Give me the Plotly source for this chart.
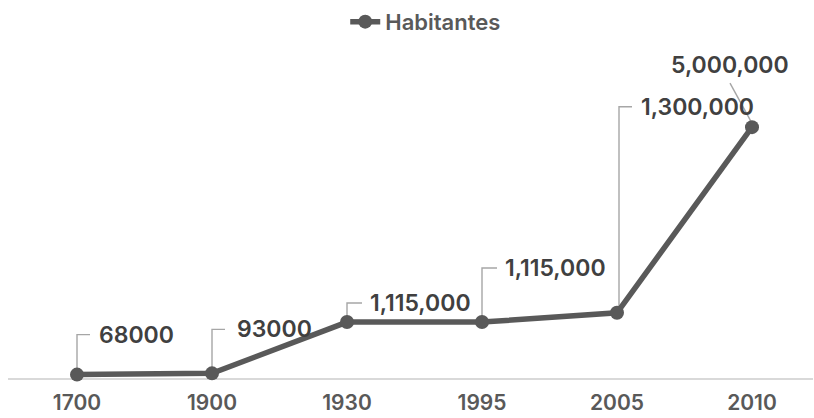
import plotly.graph_objects as go

# Population by year
years = ["1700", "1900", "1930", "1995", "2005", "2010"]
habitantes = [68000, 93000, 1115000, 1115000, 1300000, 5000000]
series_name = "Habitantes"

LINE_GREY = "#595959"
LABEL_GREY = "#404040"
LEADER_GREY = "#a6a6a6"
FONT = "Inter"


def fmt(v):
    return f"{v:,}" if v >= 1_000_000 else str(v)


xs = list(range(len(years)))

fig = go.Figure()
fig.add_trace(go.Scatter(
    x=xs, y=habitantes, name=series_name, mode="lines+markers",
    line=dict(color=LINE_GREY, width=5.5),
    marker=dict(color=LINE_GREY, size=14),
    cliponaxis=False,
    hoverinfo="skip",
))

# Callout placement for each data label (pixel offsets from the point)
label_dx = [20, 23, 21, 21, 22, -22]
label_dy = [40, 44, 19, 54, 206, 62]
leader_paths = [
    "M0,0 V40 H13",
    "M0,0 V44 H13",
    "M0,0 V19 H15",
    "M0,0 V54 H15",
    "M2,0 V206 H15",
    "M1,2 L-22,44",
]

for i, v in enumerate(habitantes):
    fig.add_shape(
        type="path", xref="x", yref="y",
        xsizemode="pixel", ysizemode="pixel",
        xanchor=xs[i], yanchor=v, path=leader_paths[i],
        line=dict(color=LEADER_GREY, width=1.4), layer="below",
    )
    fig.add_annotation(
        x=xs[i], y=v, xref="x", yref="y", text=fmt(v), showarrow=False,
        xanchor="left" if label_dx[i] > 0 else "center", yanchor="middle",
        xshift=label_dx[i], yshift=label_dy[i],
        font=dict(family=FONT, size=23, color=LABEL_GREY, weight=600),
    )

fig.update_layout(
    width=814, height=418,
    margin=dict(l=8, r=1, t=77, b=40, autoexpand=False),
    paper_bgcolor="white", plot_bgcolor="white",
    showlegend=True,
    legend=dict(
        orientation="h", xref="container", x=0.523, xanchor="center",
        yref="container", y=0.998, yanchor="top",
        font=dict(family=FONT, size=22, color=LINE_GREY, weight=600),
        bgcolor="rgba(0,0,0,0)",
    ),
    xaxis=dict(
        range=[-69 / 135, -69 / 135 + 805 / 135],
        tickvals=xs, ticktext=years,
        showgrid=False, zeroline=False,
        showline=True, linecolor="#d9d9d9", linewidth=2,
        layer="below traces",
        ticks="", ticklabelstandoff=5, automargin=False,
        tickfont=dict(family=FONT, size=21, color=LINE_GREY, weight=600),
        fixedrange=True,
    ),
    yaxis=dict(
        range=[0, 6000000], visible=False, showgrid=False, zeroline=False,
        automargin=False, fixedrange=True,
    ),
)

fig.write_html("out.html")
